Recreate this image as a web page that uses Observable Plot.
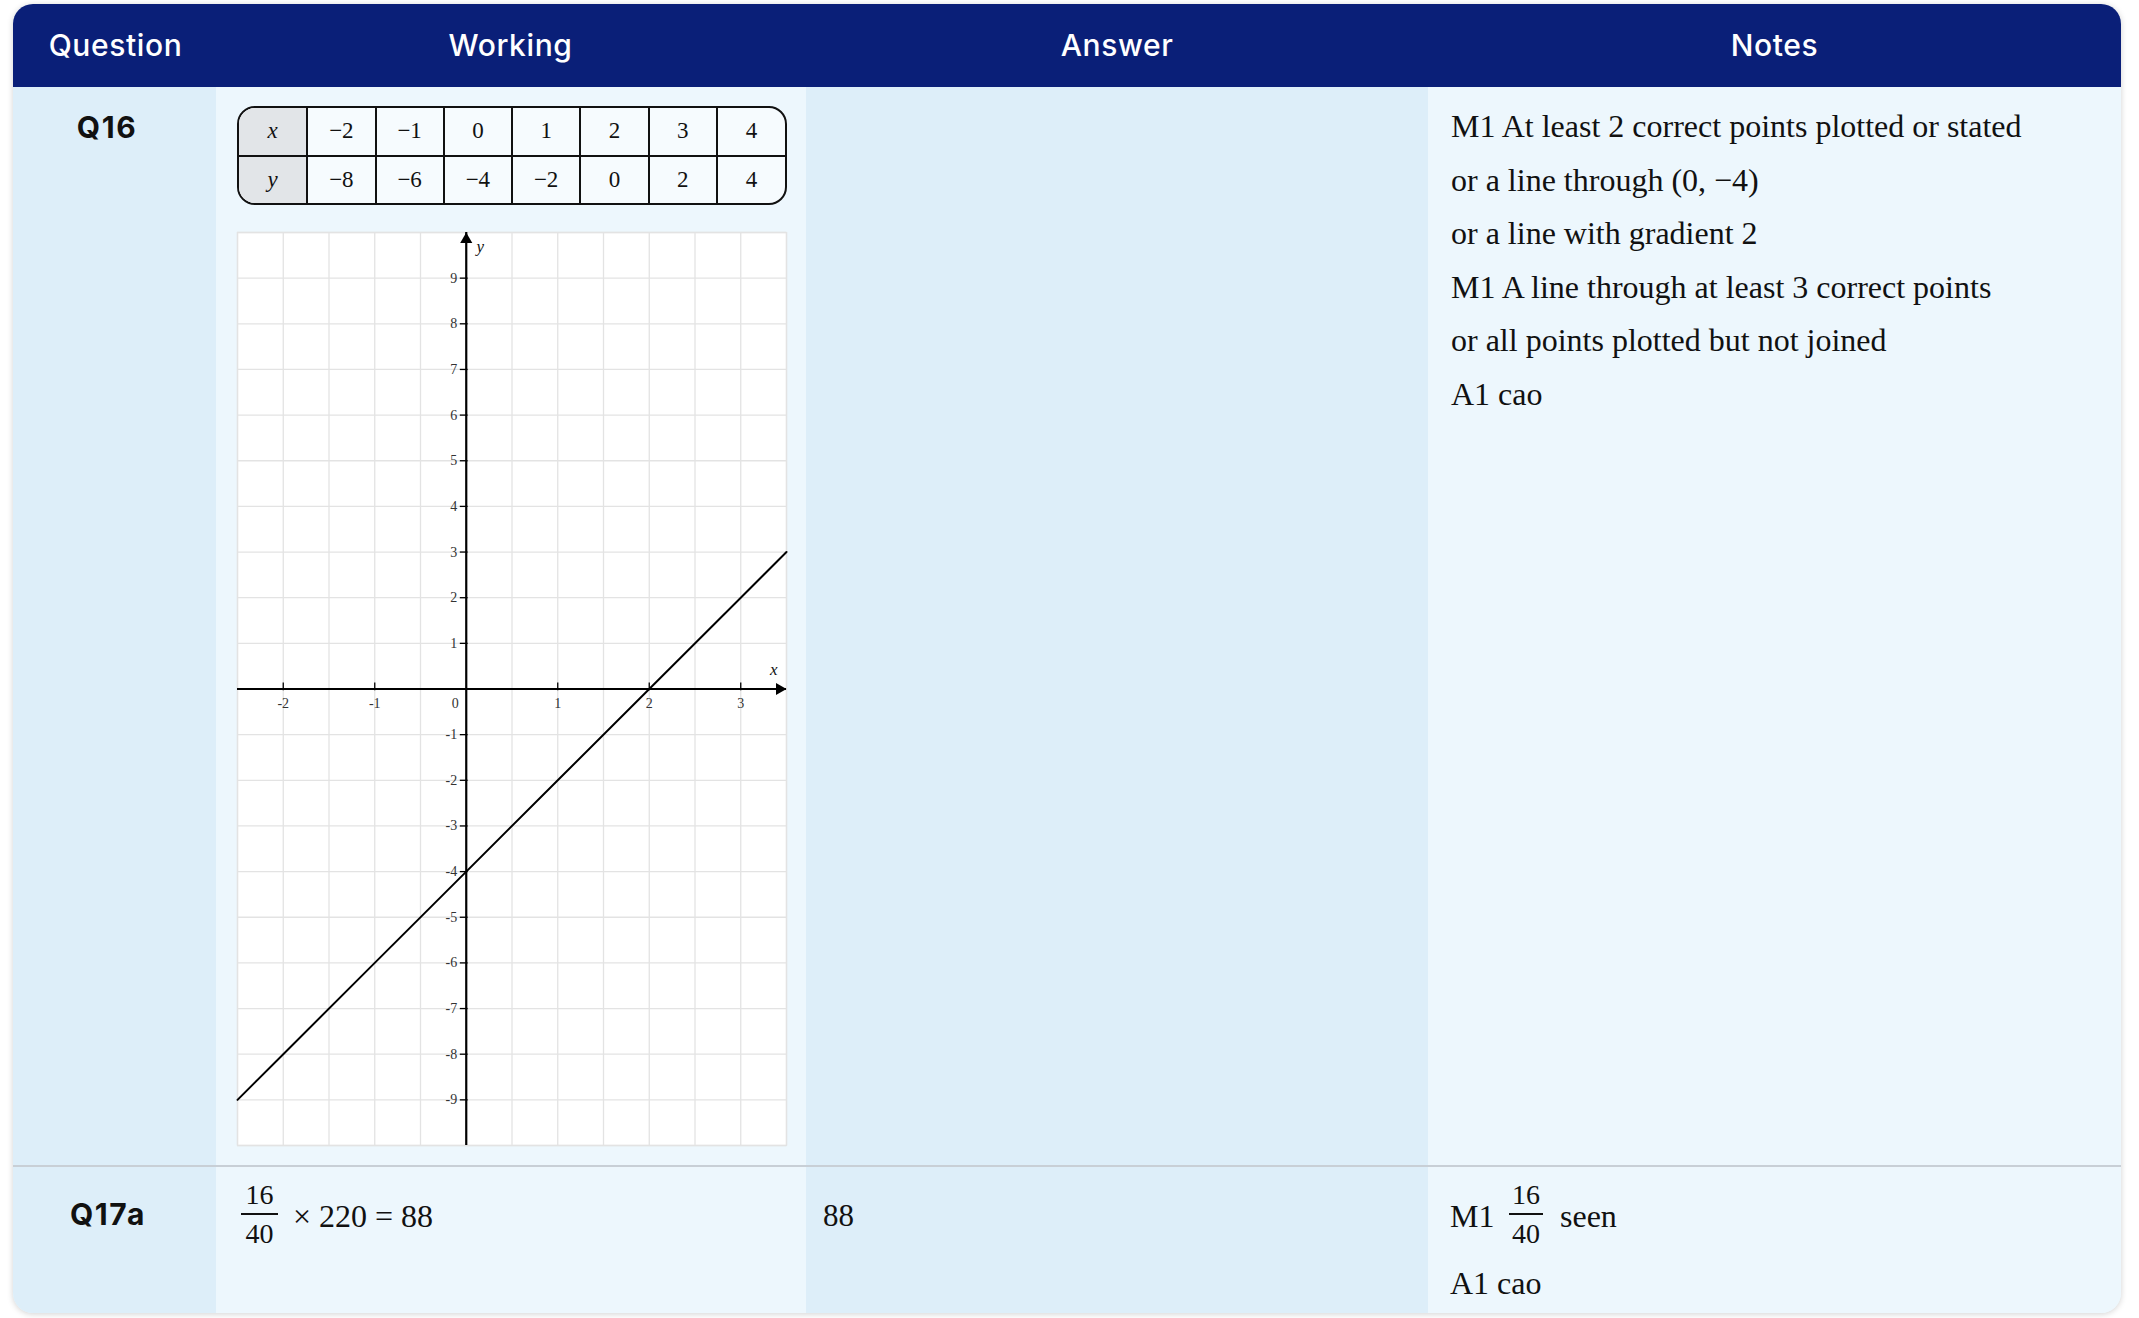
<!DOCTYPE html>
<html><head><meta charset="utf-8">
<script src="https://cdn.jsdelivr.net/npm/d3@7"></script>
<script src="https://cdn.jsdelivr.net/npm/@observablehq/plot@0.6"></script>
<style>
html,body{margin:0;padding:0;background:#fff;}
body{width:2139px;height:1318px;position:relative;overflow:hidden;font-family:Inter,"Noto Sans",sans-serif;}
.abs{position:absolute;}
.card{left:13px;top:4px;width:2108px;height:1309px;border-radius:20px;overflow:hidden;box-shadow:0 1px 6px rgba(0,0,0,0.18);background:#eef7fd;}
.hdr{left:0;top:0;width:2108px;height:83px;background:#0a1f78;}
.colbg{top:83px;height:1226px;}
.h{color:#fff;font-size:30px;font-weight:500;letter-spacing:0.6px;text-align:center;line-height:40px;top:25px;white-space:nowrap;}
.q{font-weight:700;font-size:30px;letter-spacing:1.6px;color:#111;text-align:center;line-height:40px;white-space:nowrap;}
.serif{font-family:"Liberation Serif","Times New Roman",serif;color:#111;white-space:nowrap;}
.notes div{font-size:32px;line-height:53.5px;}
.vt{border:2px solid #111;border-radius:18px;overflow:hidden;box-sizing:border-box;background:#f6fbfe;}
.vt table{width:100%;height:100%;border-collapse:collapse;table-layout:fixed;}
.vt td{border-left:2px solid #111;border-top:2px solid #111;text-align:center;font-family:"Liberation Serif","Times New Roman",serif;font-size:23px;color:#111;padding:0;}
.vt tr:first-child td{border-top:none;}
.vt td:first-child{border-left:none;background:#e2e5e8;font-style:italic;}
.frac{display:flex;flex-direction:column;align-items:center;font-family:"Liberation Serif","Times New Roman",serif;color:#111;}
.frac span{line-height:30px;font-size:28px;}
.frac i{display:block;height:2px;background:#111;width:100%;margin:3px 0 4px 0;}
</style></head>
<body>
<div class="abs card">
  <div class="abs hdr"></div>
  <div class="abs colbg" style="left:0;width:203px;background:#ddeef9;"></div>
  <div class="abs colbg" style="left:203px;width:590px;background:#edf7fd;"></div>
  <div class="abs colbg" style="left:793px;width:622px;background:#ddeef9;"></div>
  <div class="abs colbg" style="left:1415px;width:693px;background:#edf7fd;"></div>
  <div class="abs" style="left:0;top:1161px;width:2108px;height:2px;background:#c8cfd6;"></div>
</div>
<div id="headers"></div>
<div id="rows"></div>
<div id="valtable" class="abs vt" style="left:237px;top:106px;width:550px;height:99px;"></div>
<div id="graph" class="abs" style="left:234px;top:229px;"></div>
<script>
// ---------- data ----------
const headers = ["Question", "Working", "Answer", "Notes"];
const questions = ["Q16", "Q17a"];
const tableX = [-2, -1, 0, 1, 2, 3, 4];
const tableY = [-8, -6, -4, -2, 0, 2, 4];
const q16Notes = [
  "M1 At least 2 correct points plotted or stated",
  "or a line through (0, \u22124)",
  "or a line with gradient 2",
  "M1 A line through at least 3 correct points",
  "or all points plotted but not joined",
  "A1 cao"
];
const q17Numerator = 16;
const q17Denominator = 40;
const q17Total = 220;
const q17Answer = 88;
const q17Notes = ["seen", "A1 cao"];
// graph line
const lineX = [-2.5, -2, -1, 0, 1, 2, 3, 3.5];
const lineY = [-9, -8, -6, -4, -2, 0, 2, 3];
const xTicks = [-2, -1, 1, 2, 3];
const yTicks = [-9, -8, -7, -6, -5, -4, -3, -2, -1, 1, 2, 3, 4, 5, 6, 7, 8, 9];
const gridX = d3.range(-2.5, 3.51, 0.5);
const gridY = d3.range(-10, 10.01, 1);

const fmt = v => v < 0 ? "\u2212" + Math.abs(v) : String(v);

// ---------- header ----------
const hCenters = [115.5, 510.5, 1117, 1774.5];
const hd = document.getElementById("headers");
headers.forEach((t, i) => {
  const d = document.createElement("div");
  d.className = "abs h";
  d.style.left = (hCenters[i] - 150) + "px";
  d.style.width = "300px";
  d.textContent = t;
  hd.appendChild(d);
});

// ---------- rows ----------
const rows = document.getElementById("rows");
function add(html, cls, left, top, extra) {
  const d = document.createElement("div");
  d.className = "abs " + cls;
  d.style.left = left + "px";
  d.style.top = top + "px";
  if (extra) Object.assign(d.style, extra);
  d.innerHTML = html;
  rows.appendChild(d);
  return d;
}
add(questions[0], "q", 7, 107, {width: "200px"});
add(questions[1], "q", 8, 1194, {width: "200px"});

const notes = add("", "serif notes", 1451, 100);
q16Notes.forEach(t => { const d = document.createElement("div"); d.textContent = t; notes.appendChild(d); });

// Q17a working
add(`<div class="frac" style="width:37px"><span>${q17Numerator}</span><i></i><span>${q17Denominator}</span></div>`, "", 241, 1180);
add(`\u00d7 ${q17Total} = ${q17Answer}`, "serif", 293, 1195, {fontSize: "32px", lineHeight: "42px"});
// answer
add(String(q17Answer), "serif", 823, 1195, {fontSize: "31px", lineHeight: "42px"});
// notes q17
add("M1", "serif", 1450, 1195, {fontSize: "32px", lineHeight: "42px"});
add(`<div class="frac" style="width:34px"><span>${q17Numerator}</span><i></i><span>${q17Denominator}</span></div>`, "", 1509, 1180);
add(q17Notes[0], "serif", 1560, 1195, {fontSize: "32px", lineHeight: "42px"});
add(q17Notes[1], "serif", 1450, 1262, {fontSize: "32px", lineHeight: "42px"});

// ---------- value table ----------
const vt = document.getElementById("valtable");
vt.innerHTML = `<table><tr><td>x</td>${tableX.map(v => `<td>${fmt(v)}</td>`).join("")}</tr>` +
  `<tr><td>y</td>${tableY.map(v => `<td>${fmt(v)}</td>`).join("")}</tr></table>`;

// ---------- graph ----------
const m = 3;
const serif = "Liberation Serif, Times New Roman, serif";
const linePts = lineX.map((x, i) => ({x, y: lineY[i]}));
const chart = Plot.plot({
  width: 549 + 2 * m,
  height: 913 + 2 * m,
  margin: m,
  x: {domain: [-2.5, 3.5], axis: null},
  y: {domain: [-10, 10], axis: null},
  style: {background: "transparent", overflow: "visible"},
  marks: [
    Plot.frame({fill: "#ffffff", stroke: "#e3e3e3", strokeWidth: 1.3}),
    Plot.ruleX(gridX, {x: d => d, stroke: "#e3e3e3", strokeWidth: 1.3}),
    Plot.ruleY(gridY, {y: d => d, stroke: "#e3e3e3", strokeWidth: 1.3}),
    Plot.ruleY([0], {y: d => d, stroke: "#000", strokeWidth: 2.2}),
    Plot.ruleX([0], {x: d => d, stroke: "#000", strokeWidth: 2.2}),
    Plot.ruleX(xTicks, {x: d => d, y1: -0.04, y2: 0.13, stroke: "#000", strokeWidth: 1.3}),
    Plot.ruleY(yTicks, {y: d => d, x1: -0.065, x2: 0.02, stroke: "#000", strokeWidth: 1.3}),
    Plot.text(xTicks, {x: d => d, y: 0, dy: 15, text: d => String(d), fontFamily: serif, fontSize: 14, fill: "#333"}),
    Plot.text(yTicks, {x: 0, y: d => d, dx: -9, textAnchor: "end", text: d => String(d), fontFamily: serif, fontSize: 14, fill: "#333"}),
    Plot.text([0], {x: 0, y: 0, dx: -11, dy: 15, text: d => String(d), fontFamily: serif, fontSize: 14, fill: "#333"}),
    Plot.line(linePts, {x: "x", y: "y", stroke: "#000", strokeWidth: 2}),
    Plot.dot([{x: 0, y: 10}], {x: "x", y: "y", symbol: "triangle", r: 4.5, fill: "#000", stroke: null, dy: 7}),
    Plot.dot([{x: 3.5, y: 0}], {x: "x", y: "y", symbol: "triangle", r: 4.5, fill: "#000", stroke: null, rotate: 90, dx: -7}),
    Plot.text(["y"], {x: 0, y: 10, dx: 14, dy: 14, text: d => d, fontFamily: serif, fontStyle: "italic", fontSize: 17, fill: "#111"}),
    Plot.text(["x"], {x: 3.36, y: 0.42, text: d => d, fontFamily: serif, fontStyle: "italic", fontSize: 17, fill: "#111"})
  ]
});
document.getElementById("graph").appendChild(chart);
</script>
</body></html>
